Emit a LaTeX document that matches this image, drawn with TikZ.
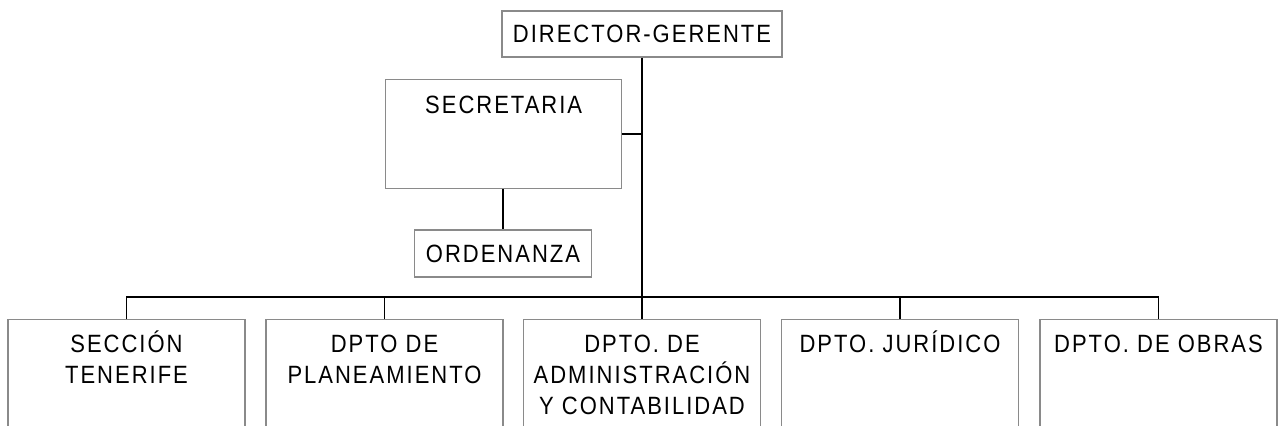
\documentclass[tikz,border=0pt]{standalone}
\usepackage{fontspec}
\setmainfont{Liberation Sans}[FakeStretch=0.88, LetterSpace=8]
\definecolor{boxgray}{HTML}{8A8A8A}
\begin{document}
\begin{tikzpicture}[x=1pt,y=-1pt,
  box/.style={draw=boxgray, line width=1.3pt, inner sep=0pt},
  conn/.style={line width=1.6pt, black},
  txt/.style={font=\fontsize{25}{31}\selectfont, align=center, inner sep=0pt},
  lbl/.style={txt, anchor=north, yshift=#1}]
\useasboundingbox (0,0) rectangle (1278,426);
\clip (0,0) rectangle (1278,426);
\fill[white] (0,0) rectangle (1278,426);

\node[box, txt, minimum width=280, minimum height=46] (dir) at (642,34) {DIRECTOR-GERENTE};
\node[box, minimum width=236, minimum height=109, anchor=north west,
  label={[lbl=-12pt]north:{\rule{0pt}{22pt}SECRETARIA}}] (sec) at (385,79) {};
\node[box, txt, minimum width=177, minimum height=47] (ord) at (503,253.5) {ORDENANZA};

\node[box, minimum width=237, minimum height=130, anchor=north,
  label={[lbl=-11pt]north:{\rule{0pt}{22pt}SECCIÓN\\TENERIFE}}] (b1) at (126.5,319) {};
\node[box, minimum width=237, minimum height=130, anchor=north,
  label={[lbl=-11pt]north:{\rule{0pt}{22pt}DPTO DE\\PLANEAMIENTO}}] (b2) at (384.5,319) {};
\node[box, minimum width=237, minimum height=130, anchor=north,
  label={[lbl=-11pt]north:{\rule{0pt}{22pt}DPTO. DE\\ADMINISTRACIÓN\\Y CONTABILIDAD}}] (b3) at (642,319) {};
\node[box, minimum width=237, minimum height=130, anchor=north,
  label={[lbl=-11pt]north:{\rule{0pt}{22pt}DPTO. JURÍDICO}}] (b4) at (900,319) {};
\node[box, minimum width=237, minimum height=130, anchor=north,
  label={[lbl=-11pt]north:{\rule{0pt}{22pt}DPTO. DE OBRAS}}] (b5) at (1158.5,319) {};

\coordinate (bus) at (642,297);
\draw[conn] (dir.south) -- (b3.north);
\draw[conn] (sec.east) -- (sec.east -| dir.south);
\draw[conn] (sec.south -| ord.north) -- (ord.north);
\draw[conn] (b1.north) -- (b1.north |- bus) -- (b5.north |- bus) -- (b5.north);
\draw[conn] (b2.north) -- (b2.north |- bus);
\draw[conn] (b4.north) -- (b4.north |- bus);
\end{tikzpicture}
\end{document}
